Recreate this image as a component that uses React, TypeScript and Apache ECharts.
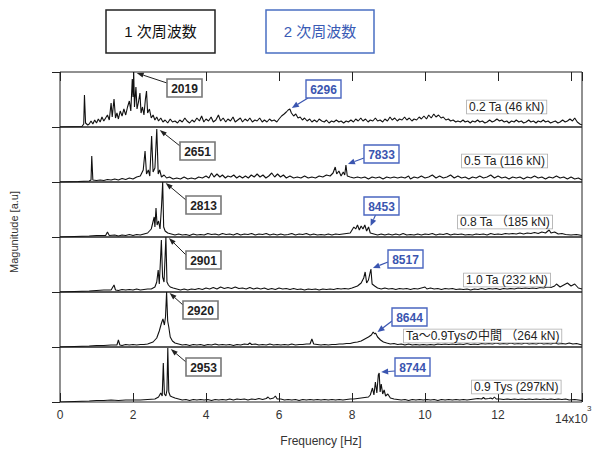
import { useEffect, useRef } from "react";
import * as echarts from "echarts";

type Pt = [number, number];

// Magnitude [a.u] vs frequency [Hz], one spectrum per load step (0..55 a.u. full panel)
const spec02: Pt[] = [
  [0, 0], [600, 0.5], [650, 3], [670, 32], [700, 4], [760, 2], [800, 3], [850, 6], [900, 3], [950, 7], [1000, 4], [1050, 8],
  [1100, 5], [1150, 10], [1200, 6], [1250, 9], [1300, 12], [1350, 7], [1400, 24], [1430, 10], [1480, 28], [1520, 9], [1560, 14],
  [1600, 8], [1650, 16], [1700, 11], [1750, 18], [1800, 12], [1850, 20], [1900, 26], [1940, 16], [1980, 48], [2000, 30], [2019, 55],
  [2040, 20], [2080, 40], [2110, 18], [2150, 25], [2190, 34], [2220, 14], [2260, 20], [2300, 12], [2340, 28], [2370, 36], [2400, 14],
  [2450, 18], [2500, 9], [2550, 12], [2600, 7], [2650, 10], [2700, 6], [2760, 9], [2820, 5], [2880, 7], [2950, 4], [3020, 8],
  [3080, 5], [3150, 6], [3220, 4], [3280, 7], [3350, 5], [3420, 9], [3480, 6], [3550, 4], [3620, 7], [3680, 5], [3750, 9], [3820, 6],
  [3880, 11], [3940, 5], [4000, 8], [4070, 6], [4140, 10], [4200, 5], [4270, 7], [4340, 12], [4400, 6], [4470, 9], [4540, 5],
  [4600, 8], [4670, 6], [4740, 10], [4800, 5], [4870, 7], [4940, 9], [5000, 5], [5070, 8], [5140, 6], [5200, 9], [5270, 5],
  [5340, 7], [5400, 6], [5470, 9], [5540, 5], [5600, 7], [5670, 5], [5740, 8], [5800, 6], [5870, 7], [5940, 5], [6000, 8],
  [6070, 11], [6140, 13], [6200, 15], [6250, 17], [6296, 18], [6340, 14], [6400, 11], [6460, 13], [6520, 9], [6580, 10], [6640, 7],
  [6700, 9], [6770, 6], [6840, 8], [6900, 5], [6970, 7], [7040, 5], [7100, 8], [7170, 6], [7240, 5], [7300, 7], [7370, 4], [7440, 6],
  [7500, 5], [7570, 7], [7640, 5], [7700, 6], [7770, 4], [7840, 6], [7900, 5], [7970, 7], [8040, 5], [8100, 8], [8170, 6], [8240, 9],
  [8300, 6], [8370, 8], [8440, 5], [8500, 7], [8570, 6], [8640, 9], [8700, 6], [8770, 7], [8840, 5], [8900, 8], [8970, 6], [9040, 10],
  [9100, 7], [9170, 9], [9240, 6], [9300, 8], [9370, 7], [9440, 10], [9500, 7], [9570, 9], [9640, 6], [9700, 8], [9770, 7], [9840, 10],
  [9900, 8], [9970, 11], [10040, 8], [10100, 12], [10170, 9], [10240, 13], [10300, 10], [10370, 12], [10440, 9], [10500, 10],
  [10570, 7], [10640, 8], [10700, 6], [10770, 7], [10840, 5], [10900, 6], [10970, 5], [11040, 7], [11100, 5], [11170, 6], [11240, 4],
  [11300, 6], [11370, 5], [11440, 7], [11500, 5], [11570, 6], [11640, 4], [11700, 5], [11770, 7], [11840, 5], [11900, 6], [11970, 8],
  [12040, 6], [12100, 7], [12170, 5], [12240, 6], [12300, 4], [12370, 6], [12440, 5], [12500, 7], [12570, 5], [12640, 6], [12700, 4],
  [12770, 5], [12840, 7], [12900, 5], [12970, 6], [13040, 4], [13100, 6], [13170, 5], [13240, 7], [13300, 5], [13370, 6], [13440, 4],
  [13500, 5], [13570, 6], [13640, 4], [13700, 5], [13770, 7], [13840, 5], [13900, 6], [13970, 8], [14040, 6], [14100, 9], [14170, 5],
  [14240, 3], [14300, 2],
];

const spec05: Pt[] = [
  [0, 0], [500, 0.5], [800, 1], [850, 2], [870, 26], [900, 2], [1000, 1.5], [1100, 2], [1200, 1.5], [1300, 2.5], [1400, 2], [1500, 3],
  [1600, 2], [1700, 3.5], [1800, 2.5], [1900, 4], [2000, 3], [2100, 5], [2200, 6], [2280, 12], [2330, 31], [2370, 8], [2420, 12],
  [2460, 6], [2510, 46], [2550, 10], [2600, 14], [2651, 53], [2690, 8], [2730, 12], [2780, 5], [2850, 7], [2920, 4], [3000, 5],
  [3100, 3], [3200, 4], [3300, 3], [3400, 5], [3500, 3], [3600, 4], [3700, 3], [3800, 5], [3900, 4], [4000, 6], [4080, 4], [4150, 9],
  [4220, 5], [4300, 8], [4380, 5], [4450, 7], [4530, 4], [4600, 6], [4680, 5], [4760, 7], [4840, 4], [4920, 6], [5000, 4], [5080, 6],
  [5160, 4], [5240, 7], [5320, 5], [5400, 8], [5480, 5], [5560, 7], [5640, 4], [5720, 6], [5800, 9], [5880, 5], [5960, 8], [6040, 5],
  [6120, 7], [6200, 4], [6300, 6], [6400, 4], [6500, 5], [6600, 4], [6700, 6], [6800, 4], [6900, 5], [7000, 4], [7100, 6], [7200, 5],
  [7300, 7], [7400, 6], [7480, 9], [7540, 15], [7580, 8], [7640, 11], [7700, 6], [7760, 10], [7800, 7], [7833, 17], [7870, 6],
  [7950, 5], [8050, 4], [8150, 5], [8250, 4], [8350, 5], [8450, 3], [8550, 5], [8650, 4], [8750, 5], [8850, 3], [8950, 5], [9050, 4],
  [9150, 5], [9250, 4], [9350, 5], [9450, 4], [9550, 6], [9600, 3], [9700, 5], [9800, 4], [9900, 6], [10000, 4], [10100, 5],
  [10200, 7], [10300, 4], [10400, 6], [10500, 4], [10600, 5], [10700, 7], [10800, 4], [10900, 6], [11000, 4], [11100, 5], [11200, 3],
  [11300, 5], [11400, 4], [11500, 6], [11600, 4], [11700, 5], [11800, 7], [11900, 4], [12000, 6], [12100, 4], [12200, 5], [12300, 3],
  [12400, 5], [12500, 4], [12600, 5], [12700, 3], [12800, 5], [12900, 4], [13000, 6], [13100, 4], [13200, 5], [13300, 3], [13400, 5],
  [13500, 4], [13600, 6], [13700, 4], [13800, 5], [13900, 3], [14000, 5], [14100, 3], [14200, 4], [14300, 2],
];

const spec08: Pt[] = [
  [0, 0], [400, 0.5], [800, 1], [1000, 1.5], [1250, 1.5], [1300, 5], [1350, 1.5], [1500, 2], [1600, 1], [1700, 2], [1800, 1.5],
  [1900, 2.5], [2000, 1.5], [2100, 2.5], [2200, 2], [2300, 3], [2400, 4], [2450, 6], [2500, 8], [2540, 14], [2580, 20], [2600, 10],
  [2630, 29], [2660, 12], [2700, 16], [2740, 8], [2780, 30], [2813, 55], [2840, 10], [2880, 6], [2950, 4], [3050, 3], [3150, 2],
  [3250, 3], [3350, 2], [3450, 2.5], [3550, 1.5], [3650, 3], [3750, 2], [3850, 2.5], [3950, 2], [4050, 3.5], [4150, 2.5], [4250, 3],
  [4350, 2], [4450, 3.5], [4550, 2.5], [4650, 3], [4750, 2], [4850, 3.5], [4950, 2], [5050, 3], [5150, 2.5], [5250, 3.5], [5350, 2],
  [5450, 3], [5550, 2.5], [5650, 3.5], [5750, 2], [5850, 3], [5950, 2], [6050, 3], [6150, 2], [6250, 2.5], [6350, 3.5], [6450, 2],
  [6550, 3], [6650, 2.5], [6750, 3.5], [6850, 2], [6950, 3], [7050, 2], [7150, 2.5], [7250, 2], [7350, 3], [7450, 2], [7550, 3],
  [7650, 2.5], [7750, 3], [7850, 3.5], [7950, 4], [8000, 7], [8050, 10], [8100, 8], [8150, 12], [8200, 7], [8250, 11], [8300, 8],
  [8350, 12], [8400, 6], [8453, 10], [8500, 4], [8600, 3], [8700, 2], [8800, 3], [8900, 2], [9000, 3], [9100, 2], [9200, 3],
  [9300, 2], [9400, 3.5], [9500, 2], [9600, 2.5], [9700, 2], [9800, 3], [9900, 2], [10000, 3], [10100, 2.5], [10200, 3.5],
  [10300, 2], [10400, 3], [10500, 2.5], [10600, 3.5], [10700, 2], [10800, 3], [10900, 2.5], [11000, 3], [11100, 2], [11200, 2.5],
  [11300, 2], [11400, 3], [11500, 2.5], [11600, 3], [11700, 2], [11800, 3.5], [11900, 2.5], [12000, 3], [12100, 2.5], [12200, 3.5],
  [12300, 3], [12400, 3.5], [12500, 3], [12600, 4], [12700, 3], [12800, 4], [12900, 3.5], [13000, 4.5], [13100, 3.5], [13200, 5],
  [13300, 4], [13400, 7], [13450, 4], [13550, 5], [13650, 3], [13750, 3.5], [13850, 2.5], [14000, 2], [14150, 2.5], [14300, 1.5],
];

const spec10: Pt[] = [
  [0, 0], [400, 0.5], [800, 1], [1000, 1.5], [1200, 2], [1400, 2], [1480, 7], [1520, 2], [1600, 1.5], [1700, 2.5], [1800, 2],
  [1900, 2.5], [2000, 2], [2100, 3], [2200, 2], [2300, 2.5], [2400, 3], [2500, 3], [2600, 5], [2650, 10], [2690, 22], [2720, 8],
  [2750, 30], [2777, 52], [2810, 15], [2850, 10], [2901, 55], [2930, 10], [2970, 7], [3020, 5], [3100, 4], [3200, 3], [3300, 2],
  [3400, 3], [3500, 2], [3600, 3], [3700, 2.5], [3800, 3.5], [3900, 2.5], [4000, 4], [4100, 3], [4200, 4.5], [4300, 3], [4400, 5],
  [4500, 3.5], [4600, 4.5], [4700, 3.5], [4800, 5], [4900, 3.5], [5000, 4], [5100, 3], [5200, 4.5], [5300, 3], [5400, 4], [5500, 3],
  [5600, 4], [5700, 2.5], [5800, 3.5], [5900, 2.5], [6000, 4], [6100, 3], [6200, 3.5], [6300, 2.5], [6400, 3.5], [6500, 2.5],
  [6600, 3], [6700, 2], [6800, 3], [6900, 2.5], [7000, 3], [7100, 2], [7200, 3], [7300, 2.5], [7400, 3], [7500, 2.5], [7600, 3.5],
  [7700, 3], [7800, 3.5], [7900, 3], [8000, 4], [8150, 6], [8250, 9], [8320, 14], [8360, 20], [8400, 9], [8450, 12], [8517, 23],
  [8550, 8], [8620, 6], [8700, 4], [8800, 3], [8900, 4], [9000, 3], [9100, 3.5], [9200, 2.5], [9300, 3.5], [9400, 3], [9500, 3.5],
  [9600, 2.5], [9700, 3.5], [9800, 3], [9900, 4], [10000, 5], [10050, 3], [10150, 4], [10250, 3], [10350, 3.5], [10450, 2.5],
  [10550, 3.5], [10650, 3], [10750, 3.5], [10850, 2.5], [10950, 3], [11050, 2.5], [11150, 3], [11250, 2], [11350, 3], [11450, 2.5],
  [11550, 3.5], [11650, 2.5], [11750, 3.5], [11850, 3], [11950, 3.5], [12050, 2.5], [12150, 3.5], [12250, 3], [12350, 3.5],
  [12450, 3], [12550, 4], [12650, 3.5], [12750, 4], [12850, 3.5], [12950, 4], [13050, 3.5], [13150, 4.5], [13250, 4], [13350, 5],
  [13450, 4.5], [13550, 6], [13600, 8], [13700, 5], [13800, 7], [13900, 9], [14000, 6], [14100, 8], [14200, 4], [14300, 3],
];

const spec264: Pt[] = [
  [0, 0], [400, 0.5], [800, 1], [1000, 1.5], [1200, 1.5], [1400, 2], [1560, 2], [1600, 7], [1640, 2], [1700, 1.5], [1800, 2.5],
  [1900, 2], [2000, 2.5], [2100, 2], [2200, 2.5], [2300, 2.5], [2400, 3], [2550, 5], [2650, 9], [2720, 16], [2780, 24], [2820, 28],
  [2860, 22], [2890, 30], [2920, 55], [2950, 26], [2980, 20], [3020, 10], [3080, 6], [3150, 4], [3250, 3], [3350, 2], [3450, 2.5],
  [3550, 1.5], [3650, 2.5], [3750, 2], [3850, 2.5], [3950, 1.5], [4050, 2.5], [4150, 2], [4250, 3], [4350, 2], [4450, 2.5],
  [4550, 2], [4650, 2.5], [4750, 1.5], [4850, 2.5], [4950, 2], [5050, 3], [5150, 2.5], [5200, 4], [5250, 2.5], [5350, 3], [5450, 2],
  [5550, 2.5], [5650, 2], [5750, 3], [5850, 2], [5950, 2.5], [6050, 2], [6150, 2.5], [6250, 2], [6350, 3], [6450, 2], [6550, 2.5],
  [6650, 2.5], [6750, 3], [6850, 3], [6900, 8], [6950, 3], [7050, 2.5], [7150, 2], [7250, 2.5], [7350, 2], [7450, 2.5], [7550, 2.5],
  [7650, 3], [7750, 3], [7850, 3.5], [7950, 3.5], [8050, 4.5], [8150, 5], [8250, 6], [8350, 8], [8450, 10], [8530, 12], [8580, 15],
  [8620, 13], [8644, 14], [8700, 10], [8780, 7], [8860, 5], [8950, 4], [9050, 3], [9150, 3.5], [9250, 2.5], [9350, 3], [9450, 2],
  [9550, 3], [9650, 2], [9750, 2.5], [9850, 2], [9950, 2.5], [10050, 2], [10150, 2.5], [10250, 2], [10350, 3], [10450, 2.5],
  [10550, 3], [10650, 2.5], [10750, 3], [10850, 2.5], [10950, 3], [11050, 2.5], [11150, 3.5], [11250, 2.5], [11350, 3], [11450, 2.5],
  [11550, 3.5], [11650, 3], [11750, 3.5], [11850, 3], [11950, 4], [12050, 3], [12150, 3.5], [12250, 3], [12350, 4], [12450, 3],
  [12550, 3.5], [12650, 3], [12750, 4], [12850, 3], [12950, 3.5], [13050, 3], [13150, 4], [13250, 3], [13350, 3.5], [13450, 3],
  [13550, 4], [13650, 3], [13750, 3.5], [13850, 3], [13950, 4], [14050, 3], [14150, 3.5], [14300, 2],
];

const spec09Tys: Pt[] = [
  [0, 0], [400, 0.5], [800, 1], [1000, 1.5], [1200, 1.5], [1400, 2], [1600, 1.5], [1800, 2], [2000, 2], [2200, 2], [2400, 2.5],
  [2600, 3], [2700, 5], [2760, 9], [2800, 6], [2830, 39], [2860, 8], [2900, 6], [2930, 12], [2953, 54], [2980, 10], [3020, 6],
  [3080, 5], [3150, 4], [3250, 3], [3350, 2], [3450, 2.5], [3550, 1.5], [3650, 2.5], [3750, 2], [3850, 2.5], [3950, 2], [4050, 2.5],
  [4150, 1.5], [4250, 2.5], [4350, 2], [4450, 2.5], [4550, 2], [4650, 3], [4750, 2], [4850, 3], [4950, 2.5], [5050, 3], [5150, 2],
  [5250, 3], [5350, 2.5], [5450, 3.5], [5550, 2.5], [5650, 3.5], [5700, 5], [5750, 3], [5850, 4], [5900, 6], [5950, 3], [6050, 3],
  [6150, 2], [6250, 2.5], [6350, 2], [6450, 2.5], [6550, 1.5], [6650, 2.5], [6750, 2], [6850, 2.5], [6950, 2], [7050, 2.5],
  [7150, 2], [7250, 2.5], [7350, 2], [7450, 2.5], [7550, 2], [7650, 2.5], [7750, 2], [7850, 2.5], [7950, 3], [8050, 3], [8150, 3.5],
  [8250, 4], [8350, 4.5], [8450, 5], [8500, 7], [8560, 14], [8600, 7], [8640, 20], [8680, 9], [8720, 27], [8744, 29], [8770, 10],
  [8800, 18], [8840, 8], [8880, 12], [8920, 6], [8980, 8], [9050, 4], [9150, 3], [9250, 2.5], [9350, 2], [9450, 2.5], [9550, 1.5],
  [9650, 2.5], [9750, 2], [9850, 2.5], [9950, 2], [10050, 2.5], [10150, 2], [10250, 2.5], [10350, 1.5], [10450, 2.5], [10550, 2],
  [10650, 2.5], [10750, 2], [10850, 2.5], [10950, 2], [11050, 2.5], [11150, 2], [11250, 2.5], [11350, 3], [11450, 3.5], [11550, 3],
  [11600, 4.5], [11650, 3], [11750, 3.5], [11800, 4], [11850, 3], [11900, 5], [11950, 3], [12050, 3], [12150, 2.5], [12250, 3],
  [12350, 2.5], [12450, 3], [12550, 2.5], [12650, 3], [12750, 2.5], [12850, 3], [12950, 2.5], [13050, 3], [13150, 2.5], [13250, 3],
  [13350, 2.5], [13450, 3], [13550, 2.5], [13650, 3], [13750, 2.5], [13850, 3], [13950, 2], [14100, 2.5], [14300, 1.5],
];

const spectra: Pt[][] = [spec02, spec05, spec08, spec10, spec264, spec09Tys];
const loadLabels = ["0.2 Ta (46 kN)", "0.5 Ta (116 kN)", "0.8 Ta （185 kN)", "1.0 Ta (232 kN)", "Ta～0.9Tysの中間 （264 kN)", "0.9 Tys (297kN)"];
const firstModes = [2019, 2651, 2813, 2901, 2920, 2953];
const firstModeMag = [55, 53, 55, 55, 55, 54];
const secondModes = [6296, 7833, 8453, 8517, 8644, 8744];
const secondModeMag = [18, 17, 10, 23, 14, 29];
const xTickLabels = ["0", "2", "4", "6", "8", "10", "12"];
const freqMax = 14300;
const magMax = 55;

// layout (pixels)
const LEFT = 60;
const RIGHT = 582;
const TOP = 72;
const PH = 55;
const firstBoxes: [number, number][] = [[167, 79], [180, 142], [186, 196], [186, 251], [183, 301], [186, 358]];
const secondBoxes: [number, number][] = [[306, 80], [364, 145], [364, 197], [388, 250], [392, 308], [395, 358]];
const secondStart: [number, number][] = [[308, 98], [364, 158], [376, 214], [388, 262], [392, 321], [395, 371]];
const labelPos: [number, number][] = [[467, 107], [462, 161], [458, 222], [464, 280], [404, 336], [472, 387]];

const FONT = "'Liberation Sans', Arial, 'Noto Sans CJK JP', sans-serif";
const BLUE = "#3a55b0";

function arrow(x1: number, y1: number, x2: number, y2: number, color: string, len: number, half: number, w: number): any[] {
  const dx = x2 - x1, dy = y2 - y1;
  const d = Math.hypot(dx, dy) || 1;
  const ux = dx / d, uy = dy / d;
  const bx = x2 - ux * len, by = y2 - uy * len;
  return [
    { type: "line", shape: { x1, y1, x2: bx, y2: by }, style: { stroke: color, lineWidth: w }, z: 20 },
    {
      type: "polygon",
      shape: { points: [[x2, y2], [bx - uy * half, by + ux * half], [bx + uy * half, by - ux * half]] },
      style: { fill: color },
      z: 20,
    },
  ];
}

export default function App() {
  const ref = useRef<HTMLDivElement>(null);
  useEffect(() => {
    if (!ref.current) return;
    const chart = echarts.init(ref.current, undefined, { renderer: "svg" });
    const grids: any[] = [];
    const xAxes: any[] = [];
    const yAxes: any[] = [];
    const series: any[] = [];
    spectra.forEach((data, i) => {
      const last = i === spectra.length - 1;
      grids.push({
        left: LEFT, width: RIGHT - LEFT, top: TOP + PH * i, height: PH,
        show: true, borderColor: "#222", borderWidth: 1, backgroundColor: "transparent",
      });
      xAxes.push({
        type: "value", gridIndex: i, min: 0, max: freqMax, interval: 2000,
        axisLine: { show: false },
        axisTick: { show: last, inside: true, length: 9, lineStyle: { color: "#222", width: 1 } },
        axisLabel: {
          show: last, margin: 7, color: "#333", fontSize: 12, fontFamily: FONT,
          formatter: (v: number) => (v % 2000 === 0 && v / 2000 < xTickLabels.length ? xTickLabels[v / 2000] : ""),
        },
        splitLine: { show: false },
        name: last ? "Frequency [Hz]" : "",
        nameLocation: "middle", nameGap: 33,
        nameTextStyle: { color: "#333", fontSize: 12, fontFamily: FONT },
      });
      yAxes.push({
        type: "value", gridIndex: i, min: 0, max: magMax, interval: magMax, position: "right",
        axisLine: { show: false },
        axisTick: { show: true, inside: true, length: 8, lineStyle: { color: "#222" } },
        axisLabel: { show: false },
        splitLine: { show: false },
      });
      series.push({
        type: "line", xAxisIndex: i, yAxisIndex: i, data, showSymbol: false, symbol: "none",
        lineStyle: { color: "#111", width: 1.1 }, silent: true,
      });
    });
    xAxes.push({
      type: "value", gridIndex: 0, min: 0, max: freqMax, interval: 2000, position: "top",
      axisLine: { show: false },
      axisTick: { show: true, inside: true, length: 9, lineStyle: { color: "#222" } },
      axisLabel: { show: false }, splitLine: { show: false },
    });

    chart.setOption({
      animation: false,
      backgroundColor: "#fff",
      grid: grids,
      xAxis: xAxes,
      yAxis: yAxes,
      series,
    });

    const g: any[] = [];
    g.push({ type: "rect", shape: { x: 106, y: 10, width: 109, height: 43 }, style: { fill: "#fff", stroke: "#222", lineWidth: 1.5 } });
    g.push({ type: "text", x: 160.5, y: 31.5, style: { text: "1 次周波数", fill: "#111", fontSize: 15, fontFamily: FONT, align: "center", verticalAlign: "middle" } });
    g.push({ type: "rect", shape: { x: 266, y: 10, width: 108, height: 43 }, style: { fill: "#fff", stroke: "#4a6fc2", lineWidth: 1.5 } });
    g.push({ type: "text", x: 320, y: 31.5, style: { text: "2 次周波数", fill: "#3a5bb5", fontSize: 15, fontFamily: FONT, align: "center", verticalAlign: "middle" } });
    g.push({ type: "text", x: 14, y: 232, rotation: Math.PI / 2, style: { text: "Magunitude [a.u]", fill: "#333", fontSize: 11, fontFamily: FONT, align: "center", verticalAlign: "middle" } });
    g.push({ type: "text", x: 555, y: 413, style: { text: "14x10", fill: "#333", fontSize: 12, fontFamily: FONT } });
    g.push({ type: "text", x: 587, y: 404, style: { text: "3", fill: "#333", fontSize: 8, fontFamily: FONT } });

    spectra.forEach((_, i) => {
      const [bx, by] = firstBoxes[i];
      const p = chart.convertToPixel({ gridIndex: i }, [firstModes[i], firstModeMag[i]]) as number[];
      g.push(...arrow(bx, by + 4, p[0] + 3, p[1] + 1, "#222", 7, 2.5, 1));
      g.push({ type: "rect", shape: { x: bx, y: by, width: 35, height: 18 }, style: { fill: "#fff", stroke: "#777", lineWidth: 1.6 }, z: 21 });
      g.push({ type: "text", x: bx + 17.5, y: by + 9.5, style: { text: String(firstModes[i]), fill: "#222", fontSize: 12, fontWeight: "bold", fontFamily: FONT, align: "center", verticalAlign: "middle" }, z: 22 });
      const [sx, sy] = secondBoxes[i];
      const q = chart.convertToPixel({ gridIndex: i }, [secondModes[i], secondModeMag[i]]) as number[];
      const [ax, ay] = secondStart[i];
      g.push(...arrow(ax, ay, q[0] + 2, q[1] - 1, BLUE, 7, 3, 1.2));
      g.push({ type: "rect", shape: { x: sx, y: sy, width: 35, height: 18 }, style: { fill: "#fff", stroke: "#4a66c0", lineWidth: 1.4 }, z: 21 });
      g.push({ type: "text", x: sx + 17.5, y: sy + 9.5, style: { text: String(secondModes[i]), fill: BLUE, fontSize: 12, fontWeight: "bold", fontFamily: FONT, align: "center", verticalAlign: "middle" }, z: 22 });
      const [lx, ly] = labelPos[i];
      g.push({
        type: "text", x: lx, y: ly, z: 21,
        style: {
          text: loadLabels[i], fill: "#222", fontSize: 12, fontFamily: FONT, align: "left", verticalAlign: "middle",
          backgroundColor: "#fff", borderColor: "#aaa", borderWidth: 0.8, padding: [1, 2, 0, 2],
        },
      });
    });

    chart.setOption({ graphic: g });
    return () => chart.dispose();
  }, []);
  return <div ref={ref} style={{ width: 592, height: 450, position: "fixed", left: 0, top: 0 }} />;
}
